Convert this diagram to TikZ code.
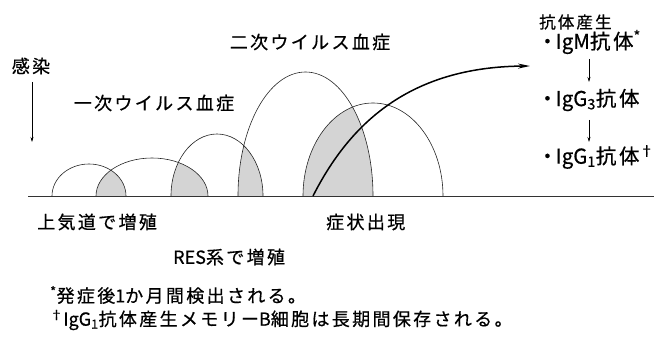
\documentclass[tikz,border=0pt]{standalone}
\usepackage{fontspec}
\setmainfont{Noto Sans CJK JP}
\newfontfamily\jp[LetterSpace=13,FakeBold=0.6]{Noto Sans CJK JP}
\newfontfamily\lat[FakeBold=0.6]{Noto Sans CJK JP}
\newcommand{\la}[1]{{\lat #1}}
\newcommand{\bul}{・\kern-2pt}
\usetikzlibrary{arrows.meta}
\begin{document}
\begin{tikzpicture}[x=1pt,y=1pt,
  lbl/.style={inner sep=0pt,font=\jp\fontsize{18}{20}\selectfont},
  rlbl/.style={inner sep=0pt,anchor=west,font=\jp\fontsize{20.5}{22}\selectfont},
  foot/.style={inner sep=0pt,anchor=west,font=\jp\fontsize{18}{20}\selectfont},
  arcline/.style={line width=0.6pt,draw=black!85},
  shade/.style={fill=black!17},
  thinarrow/.style={line width=0.6pt,-{Stealth[length=5pt,width=3pt]}}]
\useasboundingbox (0,0) rectangle (654,338);
% shaded lenses
\begin{scope}
  \clip (0,142) rectangle (654,338);
  \begin{scope}\clip (89,142) ellipse [x radius=37,y radius=32];
    \fill[shade] (152,142) ellipse [x radius=56,y radius=38];\end{scope}
  \begin{scope}\clip (152,142) ellipse [x radius=56,y radius=38];
    \fill[shade] (217,142) ellipse [x radius=46,y radius=62];\end{scope}
  \begin{scope}\clip (217,142) ellipse [x radius=46,y radius=62];
    \fill[shade] (305.5,142) ellipse [x radius=67.5,y radius=124];\end{scope}
  \begin{scope}\clip (305.5,142) ellipse [x radius=67.5,y radius=124];
    \fill[shade] (373,142) ellipse [x radius=70,y radius=93];\end{scope}
\end{scope}
% arcs
\draw[arcline] (52,142) arc[start angle=180,end angle=0,x radius=37,y radius=32];
\draw[arcline] (96,142) arc[start angle=180,end angle=0,x radius=56,y radius=38];
\draw[arcline] (171,142) arc[start angle=180,end angle=0,x radius=46,y radius=62];
\draw[arcline] (238,142) arc[start angle=180,end angle=0,x radius=67.5,y radius=124];
\draw[arcline] (303,142) arc[start angle=180,end angle=0,x radius=70,y radius=93];
% baseline
\coordinate (bl) at (28,142);
\coordinate (br) at (654,142);
\draw[line width=0.7pt,black!80] (bl) -- (br);
% antibody curve
\coordinate (cs) at (313,142);
\coordinate (ce) at (530,272);
\draw[line width=1.5pt,-{Stealth[length=12pt,width=5pt]}] (cs) .. controls (350,215) and (410,271) .. (ce);
% labels
\node[lbl] (kansen) at (31,272) {感染};
\coordinate (ka1) at (32,256);
\coordinate (ka2) at (32,196);
\draw[thinarrow] (ka1) -- (ka2);
\node[lbl] (ichiji) at (154,235) {一次ウイルス血症};
\node[lbl] (niji) at (310,296) {二次ウイルス血症};
\node[inner sep=0pt,anchor=west,font=\jp\fontsize{16.5}{18}\selectfont] (kotai) at (539,316) {抗体産生};
\node[rlbl] (igm) at (537,296) {\bul\la{IgM}抗体\textsuperscript{*}};
\node[rlbl] (igg3) at (537,238) {\bul\la{IgG\textsubscript{3}}抗体};
\node[rlbl] (igg1) at (537,181) {\bul\la{IgG\textsubscript{1}}抗体\textsuperscript{†}};
\coordinate (a1s) at (589,279);
\coordinate (a1e) at (589,256);
\coordinate (a2s) at (589,218);
\coordinate (a2e) at (589,196);
\draw[thinarrow] (a1s) -- (a1e);
\draw[thinarrow] (a2s) -- (a2e);
\node[lbl,anchor=west] (jokido) at (37,116) {上気道で増殖};
\node[lbl,anchor=west] (shojo) at (326,116) {症状出現};
\node[lbl,anchor=west] (res) at (173,81) {\la{RES}系で増殖};
\node[foot] (f1) at (50,43) {\textsuperscript{*}発症後\la{1}か月間検出される。};
\node[foot] (f2) at (50,18) {\textsuperscript{†}\la{IgG\textsubscript{1}}抗体産生メモリー\la{B}細胞は長期間保存される。};
\end{tikzpicture}
\end{document}
